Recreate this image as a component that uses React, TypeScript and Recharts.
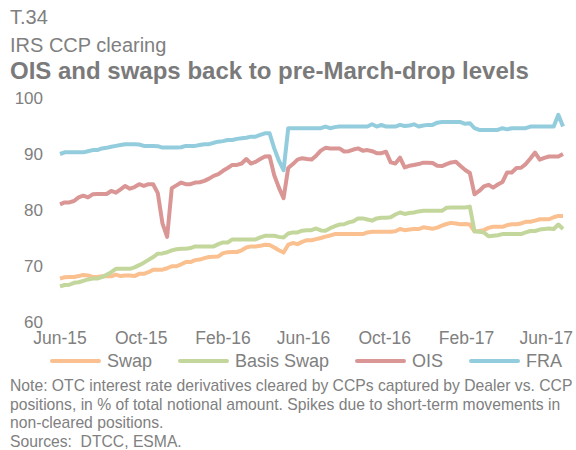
import React from 'react';
import { LineChart, Line, XAxis, YAxis, Legend } from 'recharts';

// Weekly observations, first week starting 1 June 2015
const FIRST_WEEK = '2015-06-01';
const WEEK_COUNT = 109;

const TICK_DATES = ['2015-06-01', '2015-10-01', '2016-02-01', '2016-06-01', '2016-10-01', '2017-02-01', '2017-06-01'];
const TICK_LABELS = ['Jun-15', 'Oct-15', 'Feb-16', 'Jun-16', 'Oct-16', 'Feb-17', 'Jun-17'];
const Y_TICKS = [60, 70, 80, 90, 100];

// Share of notional cleared by CCPs, in %
const SWAP = [
  67.75, 68.0, 68.05, 68.05, 68.2, 68.4, 68.3, 68.05, 68.05, 68.15,
  68.15, 68.15, 68.45, 68.2, 68.3, 68.3, 68.2, 68.6, 68.6, 68.9,
  69.35, 69.35, 69.35, 69.6, 69.95, 69.95, 70.3, 70.7, 70.7, 71.05,
  71.15, 71.4, 71.6, 71.65, 71.7, 72.3, 72.45, 72.5, 72.5, 72.8,
  73.3, 73.5, 73.5, 73.6, 73.8, 73.75, 73.3, 72.8, 72.4, 73.8,
  74.1, 73.9, 74.3, 74.6, 74.6, 74.8, 75.0, 75.25, 75.45, 75.7,
  75.7, 75.7, 75.7, 75.7, 75.7, 75.7, 76.0, 76.1, 76.1, 76.1,
  76.1, 76.1, 76.2, 76.6, 76.4, 76.5, 76.6, 76.6, 76.9, 76.8,
  76.65, 76.85, 77.2, 77.5, 77.7, 77.6, 77.45, 77.5, 77.4, 76.2,
  76.25, 76.4, 76.8, 77.0, 77.0, 77.0, 77.3, 77.45, 77.45, 77.6,
  77.9, 77.9, 78.1, 78.35, 78.35, 78.35, 78.7, 78.95, 78.95,
];

const BASIS_SWAP = [
  66.35, 66.6, 66.65, 67.0, 67.1, 67.35, 67.6, 67.75, 67.75, 68.0,
  68.45, 68.9, 69.5, 69.5, 69.5, 69.5, 69.75, 70.15, 70.6, 71.1,
  71.6, 72.2, 72.25, 72.45, 72.8, 73.0, 73.1, 73.1, 73.2, 73.5,
  73.5, 73.5, 73.5, 73.5, 73.9, 74.2, 74.2, 74.75, 74.75, 74.75,
  74.75, 74.75, 74.75, 75.1, 75.4, 75.4, 75.4, 75.2, 75.1, 75.8,
  76.0, 76.0, 76.3, 76.4, 76.4, 76.7, 76.35, 76.3, 76.75, 77.1,
  77.4, 77.45, 77.8, 78.0, 78.5, 78.5, 78.3, 78.1, 78.5, 78.6,
  78.6, 78.7, 79.2, 79.55, 79.3, 79.45, 79.55, 79.75, 79.85, 79.85,
  79.85, 79.85, 79.85, 80.4, 80.45, 80.45, 80.45, 80.45, 80.6, 76.2,
  76.1, 76.0, 75.3, 75.4, 75.5, 75.7, 75.7, 75.7, 75.7, 75.7,
  76.0, 76.25, 76.25, 76.5, 76.6, 76.7, 76.6, 77.4, 76.6,
];

const OIS = [
  81.0, 81.35, 81.35, 81.6, 82.25, 82.55, 82.25, 82.8, 82.85, 82.85,
  82.85, 83.4, 83.1, 83.7, 84.3, 83.8, 84.1, 84.6, 84.3, 84.6,
  84.6, 83.0, 77.6, 75.2, 83.9, 84.4, 84.9, 84.6, 84.6, 84.9,
  84.95, 85.2, 85.6, 86.1, 86.4, 87.0, 87.5, 88.05, 88.05, 88.3,
  89.1, 88.3, 88.6, 89.1, 89.55, 89.6, 86.2, 84.0, 82.1, 87.5,
  88.2, 89.0, 89.25, 89.1, 89.0, 89.7, 90.6, 91.1, 91.0, 91.0,
  91.0, 90.45, 90.5, 90.8, 91.0, 90.6, 90.7, 90.5, 90.15, 90.15,
  90.4, 88.5, 88.3, 89.35, 87.6, 87.9, 88.05, 88.2, 88.45, 88.45,
  88.4, 87.9, 87.85, 88.2, 88.5, 88.6, 87.85, 87.15, 86.6, 82.8,
  83.4, 84.2, 84.5, 84.0, 84.55, 85.0, 86.7, 86.7, 87.5, 87.55,
  88.2, 89.2, 90.25, 89.0, 89.3, 89.55, 89.55, 89.55, 90.0,
];

const FRA = [
  90.0, 90.3, 90.3, 90.3, 90.3, 90.3, 90.5, 90.7, 90.7, 91.0,
  91.1, 91.3, 91.45, 91.6, 91.75, 91.75, 91.75, 91.7, 91.45, 91.45,
  91.45, 91.4, 91.15, 91.15, 91.15, 91.15, 91.2, 91.45, 91.45, 91.45,
  91.6, 91.75, 91.75, 92.0, 92.2, 92.3, 92.5, 92.5, 92.7, 92.8,
  92.9, 93.1, 93.1, 93.4, 93.7, 93.7, 91.0, 88.8, 87.1, 94.6,
  94.6, 94.6, 94.6, 94.6, 94.6, 94.6, 94.6, 94.9, 94.6, 94.8,
  94.9, 94.9, 94.9, 94.9, 94.9, 94.9, 94.9, 95.3, 94.9, 95.2,
  94.9, 94.9, 94.9, 95.2, 95.0, 95.1, 95.3, 94.9, 95.1, 95.2,
  95.2, 95.6, 95.7, 95.7, 95.7, 95.7, 95.7, 95.4, 95.5, 94.6,
  94.3, 94.3, 94.3, 94.3, 94.3, 94.6, 94.4, 94.6, 94.6, 94.6,
  94.6, 94.9, 94.9, 94.9, 94.9, 94.9, 94.9, 97.0, 94.9,
];

const SERIES = [
  { key: 'swap', name: 'Swap', color: '#FAC090', values: SWAP },
  { key: 'basis', name: 'Basis Swap', color: '#C3D69B', values: BASIS_SWAP },
  { key: 'ois', name: 'OIS', color: '#D99694', values: OIS },
  { key: 'fra', name: 'FRA', color: '#93CDDD', values: FRA },
];

const NOTE_LINES = [
  'Note: OTC interest rate derivatives cleared by CCPs captured by Dealer vs. CCP',
  'positions, in % of total notional amount. Spikes due to short-term movements in',
  'non-cleared positions.',
  'Sources:  DTCC, ESMA.',
];

const DAY_MS = 86400000;
const toTime = (d: string) => Date.parse(d + 'T00:00:00Z');
const weekTimes = Array.from({ length: WEEK_COUNT }, (_, i) => toTime(FIRST_WEEK) + i * 7 * DAY_MS);
const tickTimes = TICK_DATES.map(toTime);

const rows = weekTimes.map((t, i) => {
  const row: Record<string, number> = { t };
  SERIES.forEach((s) => {
    row[s.key] = s.values[i];
  });
  return row;
});

const FONT = '"Liberation Sans", Arial, Helvetica, sans-serif';
const GREY = '#808080';

const formatTick = (v: number) => {
  const idx = tickTimes.indexOf(v);
  return idx >= 0 ? TICK_LABELS[idx] : '';
};

const renderLegend = () => (
  <div style={{ display: 'flex', alignItems: 'center', height: 22, paddingLeft: 50, fontFamily: FONT }}>
    {SERIES.map((s, i) => (
      <div key={s.key} style={{ display: 'flex', alignItems: 'center', marginRight: i < SERIES.length - 1 ? 26 : 0 }}>
        <div style={{ width: 51, height: 4, background: s.color, borderRadius: 2, marginRight: 6 }} />
        <span style={{ fontSize: 18, color: GREY, whiteSpace: 'nowrap' }}>{s.name}</span>
      </div>
    ))}
  </div>
);

export default function App() {
  return (
    <div style={{ position: 'absolute', left: 0, top: 0, width: 576, height: 450, background: '#fff', fontFamily: FONT, overflow: 'hidden' }}>
      <div style={{ position: 'absolute', left: 10, top: 7, fontSize: 20, lineHeight: '20px', color: GREY, whiteSpace: 'nowrap' }}>T.34</div>
      <div style={{ position: 'absolute', left: 10, top: 35, fontSize: 20, lineHeight: '20px', color: GREY, whiteSpace: 'nowrap' }}>IRS CCP clearing</div>
      <div style={{ position: 'absolute', left: 10, top: 59, fontSize: 24, lineHeight: '24px', fontWeight: 'bold', color: '#7a7a7a', whiteSpace: 'nowrap' }}>
        OIS and swaps back to pre-March-drop levels
      </div>

      <div style={{ position: 'absolute', left: 0, top: 0 }}>
        <LineChart width={576} height={372} data={rows} margin={{ top: 98, right: 13, bottom: 0, left: 10 }}>
          <XAxis
            dataKey="t"
            type="number"
            domain={[weekTimes[0], weekTimes[weekTimes.length - 1]]}
            ticks={tickTimes}
            tickFormatter={formatTick}
            interval={0}
            axisLine={false}
            tickLine={false}
            tickSize={0}
            tickMargin={10}
            height={28}
            tick={{ fill: GREY, fontSize: 17.5 }}
          />
          <YAxis
            domain={[60, 100]}
            ticks={Y_TICKS}
            interval={0}
            width={50}
            axisLine={false}
            tickLine={false}
            tickSize={0}
            tickMargin={17}
            tick={{ fill: GREY, fontSize: 17 }}
          />
          <Legend verticalAlign="bottom" height={22} wrapperStyle={{ left: 0, width: 576 }} content={renderLegend} />
          {SERIES.map((s) => (
            <Line
              key={s.key}
              type="linear"
              dataKey={s.key}
              name={s.name}
              stroke={s.color}
              strokeWidth={4}
              strokeLinejoin="round"
              dot={false}
              activeDot={false}
              isAnimationActive={false}
            />
          ))}
        </LineChart>
      </div>

      <div style={{ position: 'absolute', left: 10, top: 377, fontSize: 15.7, lineHeight: '18.5px', color: GREY }}>
        {NOTE_LINES.map((line) => (
          <div key={line} style={{ whiteSpace: 'pre' }}>{line}</div>
        ))}
      </div>
    </div>
  );
}
